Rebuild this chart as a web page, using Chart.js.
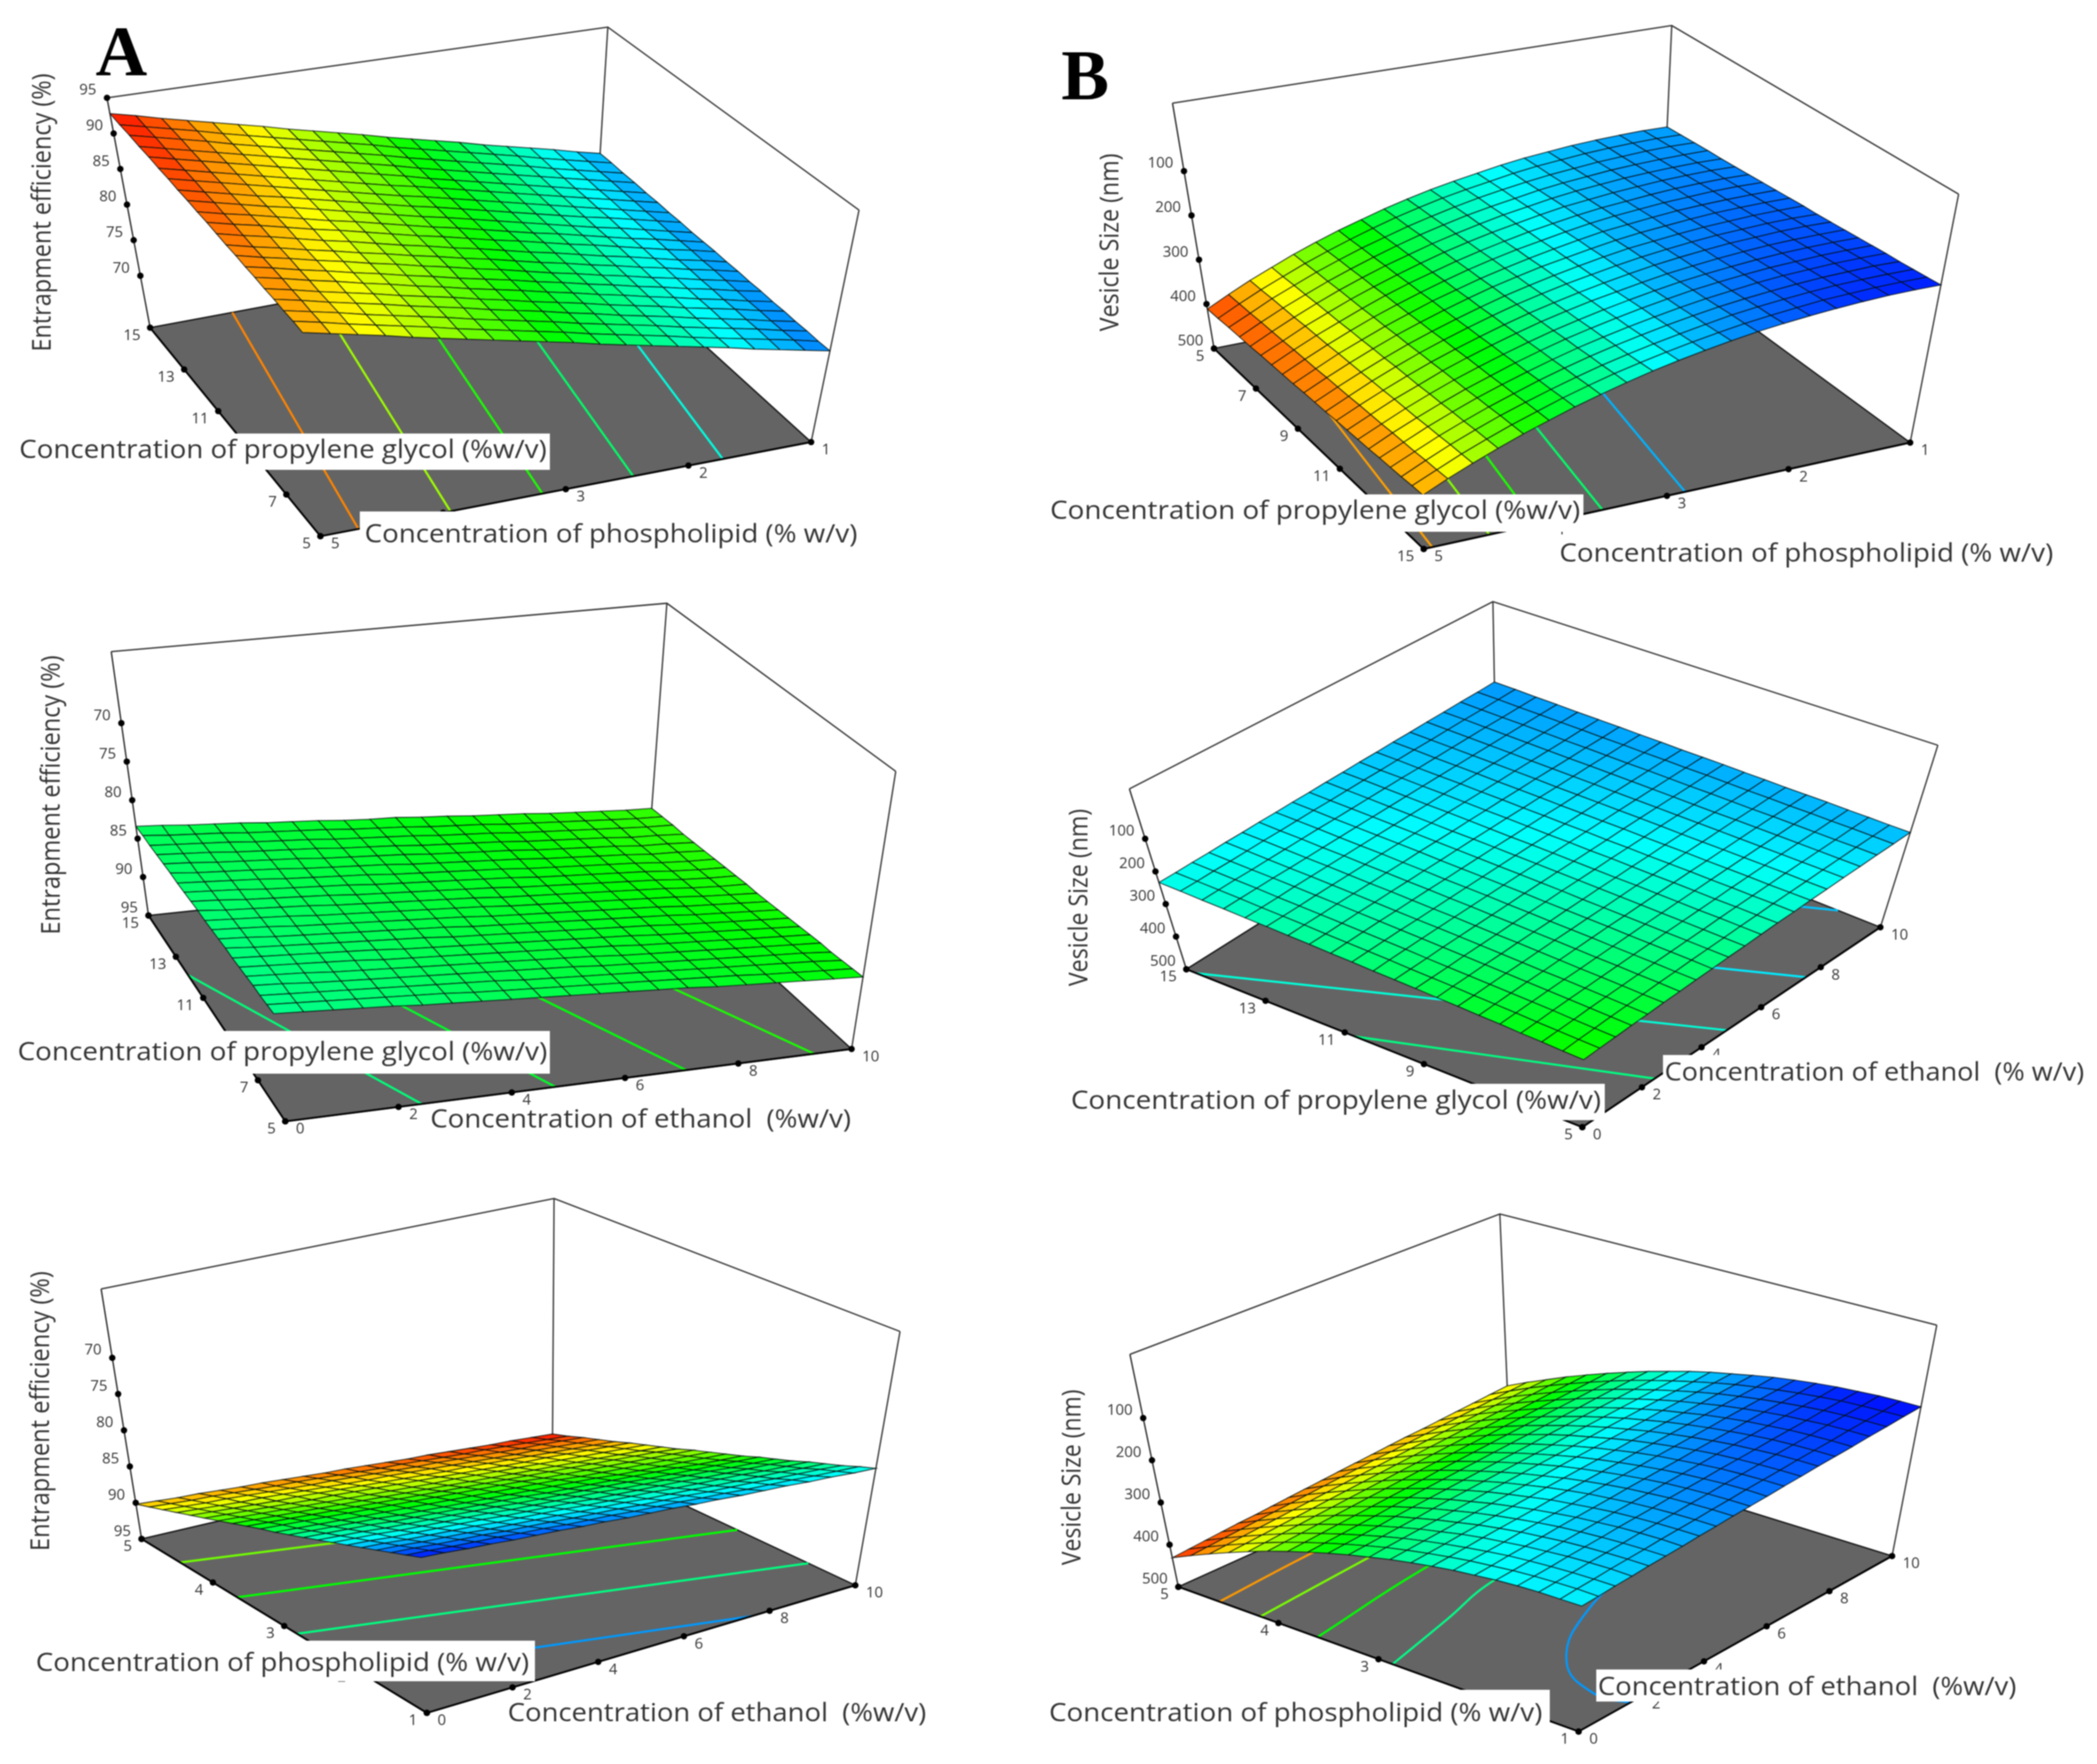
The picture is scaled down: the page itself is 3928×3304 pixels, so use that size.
<!DOCTYPE html>
<html>
<head>
<meta charset="utf-8">
<script src="https://cdn.jsdelivr.net/npm/chart.js@4/dist/chart.umd.min.js"></script>
<style>
html,body{margin:0;padding:0;background:#fff}
canvas{display:block;filter:blur(0.8px)}
</style>
</head>
<body>
<canvas id="myChart" width="3928" height="3304"></canvas>
<script>
// mesh levels of the three factors
const plLevels = [1,1.2,1.4,1.6,1.8,2,2.2,2.4,2.6,2.8,3,3.2,3.4,3.6,3.8,4,4.2,4.4,4.6,4.8,5];
const pgLevels = [5,5.5,6,6.5,7,7.5,8,8.5,9,9.5,10,10.5,11,11.5,12,12.5,13,13.5,14,14.5,15];
const etLevels = [0,0.5,1,1.5,2,2.5,3,3.5,4,4.5,5,5.5,6,6.5,7,7.5,8,8.5,9,9.5,10];

// tick labels
const plTicks = [1,2,3,4,5];
const pgTicks = [5,7,9,11,13,15];
const etTicks = [0,2,4,6,8,10];
const eeTicks = [70,75,80,85,90,95];
const vsTicks = [100,200,300,400,500];

// entrapment efficiency: rows = propylene glycol, columns = phospholipid
const eePgPl = [
[75.4,76.1,76.8,77.5,78.3,79.0,79.7,80.4,81.1,81.8,82.6,83.3,84.0,84.7,85.4,86.1,86.8,87.6,88.3,89.0,89.7],
[75.4,76.2,76.9,77.6,78.3,79.0,79.8,80.5,81.2,81.9,82.7,83.4,84.1,84.8,85.5,86.3,87.0,87.7,88.4,89.2,89.9],
[75.5,76.2,77.0,77.7,78.4,79.1,79.9,80.6,81.3,82.0,82.8,83.5,84.2,84.9,85.7,86.4,87.1,87.8,88.6,89.3,90.0],
[75.5,76.2,77.0,77.7,78.4,79.2,79.9,80.6,81.4,82.1,82.9,83.6,84.3,85.1,85.8,86.5,87.3,88.0,88.7,89.5,90.2],
[75.6,76.3,77.1,77.8,78.5,79.3,80.0,80.7,81.5,82.2,82.9,83.7,84.4,85.2,85.9,86.6,87.4,88.1,88.8,89.6,90.3],
[75.6,76.3,77.1,77.8,78.6,79.3,80.1,80.8,81.6,82.3,83.1,83.8,84.5,85.3,86.0,86.8,87.5,88.3,89.0,89.8,90.5],
[75.7,76.4,77.2,77.9,78.7,79.4,80.2,80.9,81.7,82.4,83.2,83.9,84.6,85.4,86.1,86.9,87.6,88.4,89.1,89.9,90.6],
[75.7,76.5,77.2,78.0,78.7,79.5,80.2,81.0,81.7,82.5,83.3,84.0,84.8,85.5,86.3,87.0,87.8,88.5,89.3,90.0,90.8],
[75.8,76.6,77.3,78.1,78.8,79.6,80.3,81.1,81.8,82.6,83.4,84.1,84.9,85.6,86.4,87.1,87.9,88.6,89.4,90.1,90.9],
[75.8,76.6,77.3,78.1,78.9,79.6,80.4,81.2,81.9,82.7,83.5,84.2,85.0,85.7,86.5,87.3,88.0,88.8,89.6,90.3,91.1],
[75.9,76.7,77.4,78.2,79.0,79.8,80.5,81.3,82.1,82.8,83.6,84.4,85.1,85.9,86.7,87.5,88.2,89.0,89.8,90.5,91.3],
[75.9,76.7,77.5,78.2,79.0,79.8,80.6,81.3,82.1,82.9,83.7,84.4,85.2,86.0,86.8,87.5,88.3,89.1,89.9,90.6,91.4],
[75.9,76.7,77.5,78.3,79.0,79.8,80.6,81.4,82.2,83.0,83.8,84.5,85.3,86.1,86.9,87.7,88.5,89.2,90.0,90.8,91.6],
[76.0,76.8,77.6,78.4,79.1,79.9,80.7,81.5,82.3,83.1,83.9,84.6,85.4,86.2,87.0,87.8,88.6,89.3,90.1,90.9,91.7],
[76.0,76.8,77.6,78.4,79.2,80.0,80.8,81.6,82.4,83.2,84.0,84.7,85.5,86.3,87.1,87.9,88.7,89.5,90.3,91.1,91.9],
[76.1,76.9,77.7,78.5,79.3,80.1,80.9,81.7,82.5,83.3,84.1,84.8,85.6,86.4,87.2,88.0,88.8,89.6,90.4,91.2,92.0],
[76.1,76.9,77.7,78.5,79.3,80.1,80.9,81.7,82.5,83.3,84.2,85.0,85.8,86.6,87.4,88.2,89.0,89.8,90.6,91.4,92.2],
[76.2,77.0,77.8,78.6,79.4,80.2,81.0,81.8,82.6,83.4,84.3,85.1,85.9,86.7,87.5,88.3,89.1,89.9,90.7,91.5,92.3],
[76.2,77.0,77.8,78.6,79.5,80.3,81.1,81.9,82.7,83.5,84.4,85.2,86.0,86.8,87.6,88.4,89.2,90.1,90.9,91.7,92.5],
[76.3,77.1,77.9,78.7,79.6,80.4,81.2,82.0,82.8,83.6,84.5,85.3,86.1,86.9,87.7,88.5,89.3,90.2,91.0,91.8,92.6],
[76.3,77.1,78.0,78.8,79.6,80.4,81.3,82.1,82.9,83.7,84.6,85.4,86.2,87.0,87.9,88.7,89.5,90.3,91.1,92.0,92.8]
];

// entrapment efficiency: rows = propylene glycol, columns = ethanol
const eePgEt = [
[81.9,82.1,82.3,82.5,82.7,83.0,83.2,83.4,83.6,83.8,84.0,84.2,84.4,84.6,84.8,85.1,85.3,85.5,85.7,85.9,86.1],
[82.0,82.2,82.4,82.6,82.8,83.0,83.2,83.5,83.7,83.9,84.1,84.3,84.5,84.7,84.9,85.1,85.3,85.6,85.8,86.0,86.2],
[82.1,82.3,82.5,82.7,82.9,83.1,83.3,83.5,83.7,84.0,84.2,84.4,84.6,84.8,85.0,85.2,85.4,85.6,85.8,86.0,86.3],
[82.1,82.3,82.6,82.8,83.0,83.2,83.4,83.6,83.8,84.0,84.2,84.4,84.7,84.9,85.1,85.3,85.5,85.7,85.9,86.1,86.4],
[82.2,82.4,82.6,82.9,83.1,83.3,83.5,83.7,83.9,84.1,84.3,84.5,84.7,85.0,85.2,85.4,85.6,85.8,86.0,86.2,86.4],
[82.3,82.5,82.7,82.9,83.1,83.4,83.6,83.8,84.0,84.2,84.4,84.6,84.8,85.0,85.3,85.5,85.7,85.9,86.1,86.3,86.5],
[82.4,82.6,82.8,83.0,83.2,83.4,83.7,83.9,84.1,84.3,84.5,84.7,84.9,85.1,85.3,85.6,85.8,86.0,86.2,86.4,86.6],
[82.4,82.7,82.9,83.1,83.3,83.5,83.7,83.9,84.2,84.4,84.6,84.8,85.0,85.2,85.4,85.6,85.9,86.1,86.3,86.5,86.7],
[82.5,82.7,83.0,83.2,83.4,83.6,83.8,84.0,84.2,84.5,84.7,84.9,85.1,85.3,85.5,85.7,85.9,86.2,86.4,86.6,86.8],
[82.6,82.8,83.0,83.3,83.5,83.7,83.9,84.1,84.3,84.5,84.8,85.0,85.2,85.4,85.6,85.8,86.0,86.3,86.5,86.7,86.9],
[82.7,82.9,83.1,83.3,83.6,83.8,84.0,84.2,84.4,84.6,84.8,85.1,85.3,85.5,85.7,85.9,86.1,86.3,86.6,86.8,87.0],
[82.7,83.0,83.2,83.4,83.6,83.9,84.1,84.3,84.5,84.7,84.9,85.2,85.4,85.6,85.8,86.0,86.2,86.4,86.7,86.9,87.0],
[82.8,83.0,83.3,83.5,83.7,83.9,84.2,84.4,84.6,84.8,85.0,85.2,85.5,85.7,85.9,86.1,86.3,86.5,86.8,87.0,87.1],
[82.9,83.1,83.3,83.6,83.8,84.0,84.2,84.5,84.7,84.9,85.1,85.3,85.5,85.8,86.0,86.2,86.4,86.6,86.9,87.1,87.2],
[83.0,83.2,83.4,83.6,83.9,84.1,84.3,84.5,84.8,85.0,85.2,85.4,85.6,85.9,86.1,86.3,86.5,86.7,87.0,87.2,87.3],
[83.0,83.3,83.5,83.7,83.9,84.2,84.4,84.6,84.8,85.1,85.3,85.5,85.7,85.9,86.2,86.4,86.6,86.8,87.1,87.2,87.4],
[83.1,83.3,83.6,83.8,84.0,84.2,84.5,84.7,84.9,85.1,85.4,85.6,85.8,86.0,86.3,86.5,86.7,86.9,87.2,87.3,87.5],
[83.2,83.4,83.6,83.9,84.1,84.3,84.5,84.8,85.0,85.2,85.5,85.7,85.9,86.1,86.4,86.6,86.8,87.0,87.3,87.4,87.6],
[83.3,83.5,83.7,83.9,84.2,84.4,84.6,84.9,85.1,85.3,85.5,85.8,86.0,86.2,86.5,86.7,86.9,87.1,87.3,87.5,87.6],
[83.3,83.6,83.8,84.0,84.3,84.5,84.7,84.9,85.2,85.4,85.6,85.9,86.1,86.3,86.6,86.8,87.0,87.2,87.4,87.6,87.7],
[83.4,83.6,83.9,84.1,84.3,84.6,84.8,85.0,85.3,85.5,85.6,85.9,86.1,86.4,86.6,86.8,87.1,87.3,87.5,87.7,87.8]
];

// entrapment efficiency: rows = phospholipid, columns = ethanol
const eePlEt = [
[74.3,74.5,74.8,75.0,75.3,75.5,75.7,76.0,76.2,76.5,76.7,76.9,77.2,77.4,77.7,77.9,78.1,78.4,78.6,78.9,79.1],
[75.1,75.3,75.6,75.8,76.0,76.3,76.5,76.8,77.0,77.2,77.5,77.7,77.9,78.2,78.4,78.7,78.9,79.1,79.4,79.6,79.8],
[75.9,76.1,76.4,76.6,76.8,77.1,77.3,77.5,77.8,78.0,78.2,78.5,78.7,78.9,79.2,79.4,79.6,79.9,80.1,80.3,80.6],
[76.7,76.9,77.2,77.4,77.6,77.9,78.1,78.3,78.5,78.8,79.0,79.2,79.5,79.7,79.9,80.2,80.4,80.6,80.8,81.1,81.3],
[77.5,77.7,78.0,78.2,78.4,78.6,78.9,79.1,79.3,79.5,79.8,80.0,80.2,80.4,80.7,80.9,81.1,81.3,81.6,81.8,82.0],
[78.3,78.5,78.8,79.0,79.2,79.4,79.6,79.9,80.1,80.3,80.5,80.8,81.0,81.2,81.4,81.6,81.9,82.1,82.3,82.5,82.8],
[79.1,79.3,79.5,79.8,80.0,80.2,80.4,80.6,80.9,81.1,81.3,81.5,81.7,82.0,82.2,82.4,82.6,82.8,83.1,83.3,83.5],
[79.9,80.1,80.3,80.6,80.8,81.0,81.2,81.4,81.6,81.9,82.1,82.3,82.5,82.7,82.9,83.2,83.4,83.6,83.8,84.0,84.2],
[80.7,80.9,81.1,81.3,81.6,81.8,82.0,82.2,82.4,82.6,82.8,83.1,83.3,83.5,83.7,83.9,84.1,84.3,84.6,84.8,85.0],
[81.5,81.7,81.9,82.1,82.3,82.6,82.8,83.0,83.2,83.4,83.6,83.8,84.0,84.2,84.4,84.7,84.9,85.1,85.3,85.5,85.7],
[82.3,82.5,82.7,82.9,83.1,83.3,83.5,83.7,83.9,84.1,84.3,84.5,84.7,84.9,85.2,85.4,85.6,85.8,86.0,86.2,86.4],
[83.0,83.2,83.4,83.6,83.8,84.0,84.2,84.4,84.6,84.8,85.0,85.2,85.4,85.7,85.9,86.1,86.3,86.5,86.7,86.9,87.1],
[83.8,84.0,84.2,84.4,84.6,84.8,85.0,85.2,85.4,85.6,85.8,86.0,86.2,86.4,86.6,86.8,87.0,87.2,87.4,87.6,87.9],
[84.6,84.8,85.0,85.2,85.4,85.6,85.8,86.0,86.2,86.4,86.6,86.8,87.0,87.2,87.4,87.6,87.8,88.0,88.2,88.4,88.6],
[85.4,85.6,85.8,86.0,86.2,86.4,86.6,86.8,87.0,87.2,87.4,87.5,87.7,87.9,88.1,88.3,88.5,88.7,88.9,89.1,89.3],
[86.2,86.4,86.6,86.8,87.0,87.2,87.3,87.5,87.7,87.9,88.1,88.3,88.5,88.7,88.9,89.1,89.2,89.4,89.6,89.8,90.0],
[87.0,87.2,87.4,87.6,87.8,87.9,88.1,88.3,88.5,88.7,88.9,89.1,89.3,89.4,89.6,89.8,90.0,90.2,90.4,90.6,90.8],
[87.8,88.0,88.2,88.4,88.5,88.7,88.9,89.1,89.3,89.5,89.6,89.8,90.0,90.2,90.4,90.6,90.8,90.9,91.1,91.3,91.5],
[88.6,88.8,89.0,89.1,89.3,89.5,89.7,89.9,90.0,90.2,90.4,90.6,90.8,90.9,91.1,91.3,91.5,91.7,91.8,92.0,92.2],
[89.4,89.6,89.8,89.9,90.1,90.3,90.5,90.6,90.8,91.0,91.2,91.4,91.5,91.7,91.9,92.1,92.2,92.4,92.6,92.8,93.0],
[90.2,90.4,90.6,90.7,90.9,91.1,91.2,91.4,91.6,91.8,91.9,92.1,92.3,92.5,92.6,92.8,93.0,93.2,93.3,93.5,93.7]
];

// vesicle size: rows = propylene glycol, columns = phospholipid
const vsPgPl = [
[186,185,186,188,191,196,201,208,217,226,236,248,261,276,291,308,326,346,366,388,411],
[184,183,184,186,189,194,199,206,215,224,234,246,259,274,290,307,325,345,365,387,410],
[182,181,182,185,188,193,198,205,213,222,233,245,258,273,288,305,323,343,363,386,408],
[180,180,181,183,186,191,196,203,212,221,231,243,256,271,287,304,322,342,362,384,407],
[179,178,179,181,184,189,194,201,210,219,230,242,255,270,285,302,320,340,361,383,406],
[177,176,177,179,183,187,193,199,208,218,228,240,253,268,284,301,319,339,359,382,404],
[175,174,175,177,181,186,191,198,207,216,227,239,252,267,282,299,318,338,358,380,403],
[173,172,173,176,179,184,189,196,205,215,225,237,250,265,281,298,316,336,357,379,402],
[171,171,172,174,177,182,188,194,203,213,224,236,249,264,279,297,315,335,355,378,401],
[169,169,170,172,176,181,186,193,202,212,222,234,247,262,278,295,313,333,354,376,399],
[167,167,168,171,174,179,185,191,200,210,221,233,246,261,277,294,312,332,353,375,398],
[166,165,166,169,172,177,183,190,199,209,219,231,244,259,275,292,310,330,351,374,397],
[164,163,164,167,170,175,181,188,197,207,218,230,243,258,274,291,309,329,350,372,395],
[162,162,163,165,169,174,180,187,196,206,216,228,241,256,272,289,307,328,348,371,394],
[160,160,161,163,167,172,178,185,194,204,215,227,240,255,271,288,306,326,347,370,393],
[158,158,159,162,165,170,176,183,192,202,213,225,238,253,269,287,305,325,346,368,392],
[156,156,157,160,163,168,175,182,191,201,212,224,237,252,268,285,303,323,344,367,390],
[155,154,156,158,162,167,173,180,189,199,210,222,235,250,266,284,302,322,343,366,389],
[153,153,154,156,160,165,171,178,188,198,209,221,234,249,265,282,300,320,341,364,388],
[151,151,152,155,158,164,170,177,186,196,207,219,232,247,263,281,299,319,340,363,386],
[149,149,150,153,157,162,168,175,184,194,205,217,231,246,262,280,298,318,339,361,385]
];

// vesicle size: rows = propylene glycol, columns = ethanol
const vsPgEt = [
[303,298,294,289,285,280,276,271,267,262,258,253,248,244,239,235,230,226,221,217,212],
[300,295,291,286,282,278,273,269,264,260,256,251,247,242,238,234,229,225,220,216,212],
[296,292,288,283,279,275,271,266,262,258,254,249,245,241,237,232,228,224,220,215,211],
[293,289,284,280,276,272,268,264,260,256,252,248,244,239,235,231,227,223,219,215,211],
[289,285,281,277,273,270,266,262,258,254,250,246,242,238,234,230,226,222,218,214,210],
[286,282,278,274,271,267,263,259,255,252,248,244,240,236,233,229,225,221,217,214,210],
[282,279,275,271,268,264,260,257,253,250,246,242,239,235,231,228,224,220,217,213,210],
[279,275,272,268,265,261,258,255,251,248,244,241,237,234,230,227,223,220,216,213,209],
[275,272,269,265,262,259,255,252,249,245,242,239,235,232,229,225,222,219,215,212,209],
[272,269,266,262,259,256,253,250,246,243,240,237,234,231,227,224,221,218,215,211,208],
[269,265,262,259,256,253,250,247,244,241,238,235,232,229,226,223,220,217,214,211,208],
[265,262,259,256,254,251,248,245,242,239,236,233,231,228,225,222,219,216,213,210,208],
[262,259,256,253,251,248,245,243,240,237,234,232,229,226,224,221,218,215,213,210,207],
[258,256,253,250,248,245,243,240,238,235,232,230,227,225,222,220,217,214,212,209,207],
[255,252,250,247,245,243,240,238,235,233,231,228,226,223,221,218,216,214,211,209,206],
[251,249,247,244,242,240,238,235,233,231,229,226,224,222,220,217,215,213,211,208,206],
[248,246,244,241,239,237,235,233,231,229,227,225,222,220,218,216,214,212,210,208,206],
[244,242,240,238,237,235,233,231,229,227,225,223,221,219,217,215,213,211,209,207,205],
[241,239,237,236,234,232,230,228,227,225,223,221,219,218,216,214,212,210,209,207,205],
[237,236,234,233,231,229,228,226,224,223,221,219,218,216,214,213,211,209,208,206,204],
[234,233,231,230,228,227,225,224,222,221,219,218,216,215,213,212,210,209,207,206,204]
];

// vesicle size: rows = phospholipid, columns = ethanol
const vsPlEt = [
[212,209,205,202,198,195,192,188,185,181,178,175,171,168,164,161,158,154,151,147,144],
[212,208,205,201,198,195,191,188,185,181,178,174,171,168,164,161,158,154,151,148,144],
[212,209,206,202,199,196,192,189,186,182,179,175,172,169,165,162,159,155,152,149,145],
[214,211,208,204,201,198,194,191,188,184,181,178,174,171,168,164,161,158,154,151,148],
[217,214,211,208,204,201,198,194,191,188,184,181,178,174,171,168,165,161,158,155,151],
[222,219,215,212,209,205,202,199,196,192,189,186,183,179,176,173,169,166,163,160,156],
[227,224,221,218,214,211,208,205,201,198,195,192,188,185,182,179,175,172,169,166,162],
[234,231,228,224,221,218,215,211,208,205,202,199,195,192,189,186,182,179,176,173,169],
[242,239,236,232,229,226,223,220,216,213,210,207,204,200,197,194,191,188,184,181,178],
[251,248,245,242,239,235,232,229,226,223,219,216,213,210,207,204,200,197,194,191,188],
[262,258,255,252,249,246,243,239,236,233,230,227,224,221,217,214,211,208,205,202,198],
[273,270,267,264,261,257,254,251,248,245,242,239,236,232,229,226,223,220,217,214,210],
[286,283,280,277,273,270,267,264,261,258,255,252,249,245,242,239,236,233,230,227,224],
[300,297,294,291,288,284,281,278,275,272,269,266,263,260,257,254,251,247,244,241,238],
[315,312,309,306,303,300,297,294,291,287,284,281,278,275,272,269,266,263,260,257,254],
[331,328,325,322,319,316,313,310,307,304,301,298,295,292,289,286,283,280,277,274,271],
[349,346,343,340,337,334,331,328,325,322,319,316,313,310,307,304,301,298,295,292,289],
[368,365,362,359,356,353,350,347,344,341,338,335,332,329,326,323,320,317,314,311,308],
[388,385,382,379,376,373,370,367,364,361,358,355,352,349,346,343,340,337,334,331,329],
[409,406,403,400,397,394,391,388,385,382,379,376,374,371,368,365,362,359,356,353,350],
[431,428,425,422,419,417,414,411,408,405,402,399,396,393,390,388,385,382,379,376,373]
];

// floor contour lines, [x, y] in factor units plus the level that colours them
const contoursA1 = [
  {level:90.4, pts:[[4.69,5],[4.26,15]]},
  {level:86.1, pts:[[3.94,5],[3.5,15]]},
  {level:83.5, pts:[[3.19,5],[2.75,15]]},
  {level:81, pts:[[2.45,5],[2,15]]},
  {level:78.6, pts:[[1.72,5],[1.25,15]]}
];
const contoursA2 = [
  {level:82.5, pts:[[0,12.1],[2.41,5]]},
  {level:85, pts:[[1.38,15],[4.77,5]]},
  {level:86, pts:[[3.69,15],[7.08,5]]},
  {level:87, pts:[[6,15],[9.34,5]]}
];
const contoursA3 = [
  {level:86.2, pts:[[0,4.46],[10,3.4]]},
  {level:84, pts:[[0,3.66],[10,2.56]]},
  {level:81.5, pts:[[0,2.82],[10,1.62]]},
  {level:77, pts:[[0,1.92],[7.57,1]]}
];
const contoursB1 = [
  {level:380, pts:[[4.93,15],[4.5,5]]},
  {level:320, pts:[[4.46,15],[3.95,5]]},
  {level:290, pts:[[4.07,15],[3.5,5]]},
  {level:254, pts:[[3.53,15],[3,5]]},
  {level:190, pts:[[2.85,15],[2.3,5]]}
];
const contoursB2 = [
  {level:240, pts:[[0,14.74],[4.85,5]]},
  {level:262, pts:[[0,10.74],[2.43,5]]},
  {level:225, pts:[[2.5,15],[7.5,5]]},
  {level:215, pts:[[5.55,15],[10,6.1]]}
];
const contoursB3 = [
  {level:395, pts:[[0,4.59],[2.79,4.66],[10,4.8]]},
  {level:326, pts:[[0,4.18],[3.36,4.27],[10,4.45]]},
  {level:290, pts:[[0,3.61],[3.82,3.81],[10,4]]},
  {level:250, pts:[[0,2.86],[2.3,3.06],[4.18,3.24],[10,3.5]]},
  {level:185, pts:[[1.65,1],[1.5,1.3],[2.3,1.85],[4.44,2.32],[6.5,2.5],[10,2.6]]}
];

// floor and top corners are in the order x0y0, x1y0, x0y1, x1y1
const views = [
  {xs:plLevels, ys:pgLevels, zs:eePgPl, xTicks:plTicks, yTicks:pgTicks, zTicks:eeTicks, contours:contoursA1,
   zFloor:62.7, zTop:95, colorRange:[73,93], frontX:5, frontY:5,
   floor:[[1518,825],[596,1002],[1111,455],[276,610]], top:[[1608,389],[556,544],[1136,45],[195,178]],
   zTitle:{text:'Entrapment efficiency (%)', x:81, y:398, w:521},
   labels:[
     {text:'Concentration of propylene glycol (%w/v)', box:[16,812,1014,68], x:36, y:844, w:988},
     {text:'Concentration of phospholipid (% w/v)', box:[674,958,941,82], x:683, y:1002, w:923}
   ]},
  {xs:etLevels, ys:pgLevels, zs:eePgEt, xTicks:etTicks, yTicks:pgTicks, zTicks:eeTicks, contours:contoursA2,
   zFloor:95, zTop:60.7, colorRange:[70.5,102], frontX:0, frontY:5,
   floor:[[530,2102],[1594,1966],[273,1715],[1211,1616]], top:[[473,1572],[1677,1444],[203,1219],[1247,1128]],
   zTitle:{text:'Entrapment efficiency (%)', x:98, y:1489, w:523},
   labels:[
     {text:'Concentration of propylene glycol (%w/v)', box:[0,1931,1030,80], x:33, y:1972, w:992},
     {text:'Concentration of ethanol  (%w/v)', box:[798,2075,802,50], x:806, y:2098, w:788}
   ]},
  {xs:etLevels, ys:plLevels, zs:eePlEt, xTicks:etTicks, yTicks:plTicks, zTicks:eeTicks, contours:contoursA3,
   zFloor:95, zTop:60.5, colorRange:[74,94], frontX:0, frontY:1,
   floor:[[796,3214],[1601,2974],[260,2887],[1032,2707]], top:[[778,2727],[1685,2497],[184,2417],[1035,2247]],
   zTitle:{text:'Entrapment efficiency (%)', x:78, y:2643, w:524},
   labels:[
     {text:'Concentration of phospholipid (% w/v)', box:[0,3073,1002,76], x:67, y:3116, w:924},
     {text:'Concentration of ethanol  (%w/v)', box:[943,3184,797,54], x:951, y:3210, w:784}
   ]},
  {xs:plLevels, ys:pgLevels, zs:vsPgPl, xTicks:plTicks, yTicks:pgTicks, zTicks:vsTicks, contours:contoursB1,
   zFloor:500, zTop:-53, colorRange:[140,425], frontX:5, frontY:15,
   floor:[[3115,483],[2275,649],[3583,826],[2669,1026]], top:[[3135,42],[2197,188],[3674,359],[2662,539]],
   zTitle:{text:'Vesicle Size (nm)', x:2081, y:454, w:333},
   labels:[
     {text:'Concentration of propylene glycol (%w/v)', box:[1960,926,1006,70], x:1967, y:958, w:993},
     {text:'Concentration of phospholipid (% w/v)', box:[2915,1010,935,56], x:2921, y:1038, w:925}
   ]},
  {xs:etLevels, ys:pgLevels, zs:vsPgEt, xTicks:etTicks, yTicks:pgTicks, zTicks:vsTicks, contours:contoursB2,
   zFloor:500, zTop:-53, colorRange:[165,425], frontX:0, frontY:5,
   floor:[[2967,2113],[3527,1737],[2223,1816],[2805,1450]], top:[[2974,1757],[3635,1395],[2116,1477],[2799,1125]],
   zTitle:{text:'Vesicle Size (nm)', x:2023, y:1681, w:332},
   labels:[
     {text:'Concentration of propylene glycol (%w/v)', box:[2003,2030,1003,68], x:2006, y:2063, w:993},
     {text:'Concentration of ethanol  (% w/v)', box:[3115,1976,795,52], x:3118, y:2010, w:786}
   ]},
  {xs:etLevels, ys:plLevels, zs:vsPlEt, xTicks:etTicks, yTicks:plTicks, zTicks:vsTicks, contours:contoursB3,
   zFloor:500, zTop:-51, colorRange:[140,440], frontX:0, frontY:1,
   floor:[[2960,3249],[3549,2919],[2208,2977],[2830,2696]], top:[[2971,2798],[3633,2485],[2117,2540],[2812,2276]],
   zTitle:{text:'Vesicle Size (nm)', x:2010, y:2767, w:329},
   labels:[
     {text:'Concentration of phospholipid (% w/v)', box:[1965,3165,938,69], x:1965, y:3210, w:924},
     {text:'Concentration of ethanol  (%w/v)', box:[2990,3127,800,60], x:2993, y:3161, w:784}
   ]}
];

const panelLetters = [
  {text:'A', x:179, y:141},
  {text:'B', x:1988, y:186}
];

// blue - cyan - green - yellow - red
function jet(value, range) {
  const t = Math.min(1, Math.max(0, (value - range[0]) / (range[1] - range[0])));
  const stops = [[0,0,255],[0,255,255],[0,255,0],[255,255,0],[255,0,0]];
  const p = t * 4;
  const k = Math.min(3, Math.floor(p));
  const f = p - k;
  const c = stops[k].map((a, n) => Math.round(a + (stops[k + 1][n] - a) * f));
  return `rgb(${c[0]},${c[1]},${c[2]})`;
}

function bilinear(c, u, v) {
  const at = n => c[0][n] * (1 - u) * (1 - v) + c[1][n] * u * (1 - v) + c[2][n] * (1 - u) * v + c[3][n] * u * v;
  return [at(0), at(1)];
}

// factor values -> position on the chart's x/y scales
function project(view, x, y, z) {
  const xs = view.xs, ys = view.ys;
  const u = (x - xs[0]) / (xs[xs.length - 1] - xs[0]);
  const v = (y - ys[0]) / (ys[ys.length - 1] - ys[0]);
  const w = (z - view.zFloor) / (view.zTop - view.zFloor);
  const a = bilinear(view.floor, u, v);
  const b = bilinear(view.top, u, v);
  return {x: a[0] + (b[0] - a[0]) * w, y: a[1] + (b[1] - a[1]) * w};
}

function lineSet(points, color, width, extra) {
  return Object.assign({data: points, showLine: true, pointRadius: 0, borderColor: color, borderWidth: width, fill: false, tension: 0}, extra || {});
}

const layers = [];
const tickTexts = [];

views.forEach(view => {
  const x0 = view.xs[0], x1 = view.xs[view.xs.length - 1];
  const y0 = view.ys[0], y1 = view.ys[view.ys.length - 1];
  const zf = view.zFloor, zt = view.zTop;
  const frontX = view.frontX, frontY = view.frontY;
  const farX = frontX === x0 ? x1 : x0;
  const farY = frontY === y0 ? y1 : y0;

  // box walls
  layers.push(lineSet([project(view, frontX, farY, zt), project(view, farX, farY, zt), project(view, farX, frontY, zt)], '#333', 2.5));
  layers.push(lineSet([project(view, farX, farY, zf), project(view, farX, farY, zt)], '#333', 2.5));
  layers.push(lineSet([project(view, farX, frontY, zf), project(view, farX, frontY, zt)], '#333', 2.5));

  // floor
  const floorPts = [[frontX,farY],[farX,farY],[farX,frontY],[frontX,frontY],[frontX,farY]].map(p => project(view, p[0], p[1], zf));
  layers.push(lineSet(floorPts, '#111', 2.5, {fill: 'shape', backgroundColor: '#646464'}));

  // contours
  view.contours.forEach(c => {
    layers.push(lineSet(c.pts.map(p => project(view, p[0], p[1], zf)), jet(c.level, view.colorRange), 4, {tension: 0.45}));
  });

  // surface cells, far ones first
  const cells = [];
  for (let j = 0; j < view.ys.length - 1; j++) {
    for (let i = 0; i < view.xs.length - 1; i++) {
      const a = view.zs[j][i], b = view.zs[j][i + 1], c = view.zs[j + 1][i + 1], d = view.zs[j + 1][i];
      const pts = [
        project(view, view.xs[i], view.ys[j], a),
        project(view, view.xs[i + 1], view.ys[j], b),
        project(view, view.xs[i + 1], view.ys[j + 1], c),
        project(view, view.xs[i], view.ys[j + 1], d)
      ];
      pts.push(pts[0]);
      const mid = project(view, (view.xs[i] + view.xs[i + 1]) / 2, (view.ys[j] + view.ys[j + 1]) / 2, zf);
      cells.push({depth: mid.y, pts: pts, value: (a + b + c + d) / 4});
    }
  }
  cells.sort((p, q) => p.depth - q.depth);
  cells.forEach(c => {
    layers.push(lineSet(c.pts, 'rgba(5,15,15,0.9)', 1.6, {fill: 'shape', backgroundColor: jet(c.value, view.colorRange)}));
  });

  // axes with their tick dots
  layers.push(lineSet([project(view, frontX, farY, zf), project(view, frontX, farY, zt)], '#222', 2.5));
  layers.push(lineSet([project(view, frontX, farY, zf), project(view, frontX, frontY, zf), project(view, farX, frontY, zf)], '#000', 3.5));
  const dots = [];
  view.zTicks.forEach(t => {
    const p = project(view, frontX, farY, t);
    dots.push(p);
    tickTexts.push({text: String(t), x: p.x - 20, y: p.y - 14, align: 'right'});
  });
  view.yTicks.forEach(t => {
    const p = project(view, frontX, t, zf);
    dots.push(p);
    tickTexts.push({text: String(t), x: p.x - 18, y: p.y + 15, align: 'right'});
  });
  view.xTicks.forEach(t => {
    const p = project(view, t, frontY, zf);
    dots.push(p);
    tickTexts.push({text: String(t), x: p.x + 20, y: p.y + 15, align: 'left'});
  });
  layers.push({data: dots, showLine: false, pointRadius: 6, pointBackgroundColor: '#000', pointBorderWidth: 0});
});

// text squeezed or stretched to the width it has in the figure
function fitText(ctx, text, x, y, width, size) {
  ctx.font = `${size}px "Open Sans"`;
  const measured = ctx.measureText(text).width;
  ctx.save();
  ctx.translate(x, y);
  ctx.scale(width / measured, 1);
  ctx.textAlign = 'left';
  ctx.textBaseline = 'middle';
  ctx.fillText(text, 0, 0);
  ctx.restore();
}

const textPlugin = {
  id: 'figureText',
  afterDatasetsDraw(chart) {
    const ctx = chart.ctx;
    const sx = chart.scales.x, sy = chart.scales.y;
    ctx.save();
    ctx.fillStyle = '#333';
    ctx.font = '28px "Open Sans"';
    ctx.textBaseline = 'middle';
    tickTexts.forEach(t => {
      ctx.textAlign = t.align;
      ctx.fillText(t.text, sx.getPixelForValue(t.x), sy.getPixelForValue(t.y));
    });
    views.forEach(view => {
      view.labels.forEach(l => {
        ctx.fillStyle = '#fff';
        ctx.fillRect(l.box[0], l.box[1], l.box[2], l.box[3]);
      });
    });
    views.forEach(view => {
      ctx.fillStyle = '#333';
      view.labels.forEach(l => fitText(ctx, l.text, l.x, l.y, l.w, 48));
      const t = view.zTitle;
      ctx.save();
      ctx.translate(t.x, t.y);
      ctx.rotate(-Math.PI / 2);
      fitText(ctx, t.text, -t.w / 2, 0, t.w, 50);
      ctx.restore();
    });
    ctx.fillStyle = '#000';
    ctx.font = 'bold 134px "Liberation Serif"';
    ctx.textAlign = 'left';
    ctx.textBaseline = 'alphabetic';
    panelLetters.forEach(l => ctx.fillText(l.text, l.x, l.y));
    ctx.restore();
  }
};

new Chart(document.getElementById('myChart').getContext('2d'), {
  type: 'scatter',
  data: {datasets: layers.slice().reverse()},
  options: {
    responsive: false,
    animation: false,
    events: [],
    layout: {padding: 0},
    scales: {
      x: {type: 'linear', min: 0, max: 3928, display: false},
      y: {type: 'linear', min: 0, max: 3304, reverse: true, display: false}
    },
    plugins: {legend: {display: false}, tooltip: {enabled: false}, title: {display: false}}
  },
  plugins: [textPlugin]
});
</script>
</body>
</html>
